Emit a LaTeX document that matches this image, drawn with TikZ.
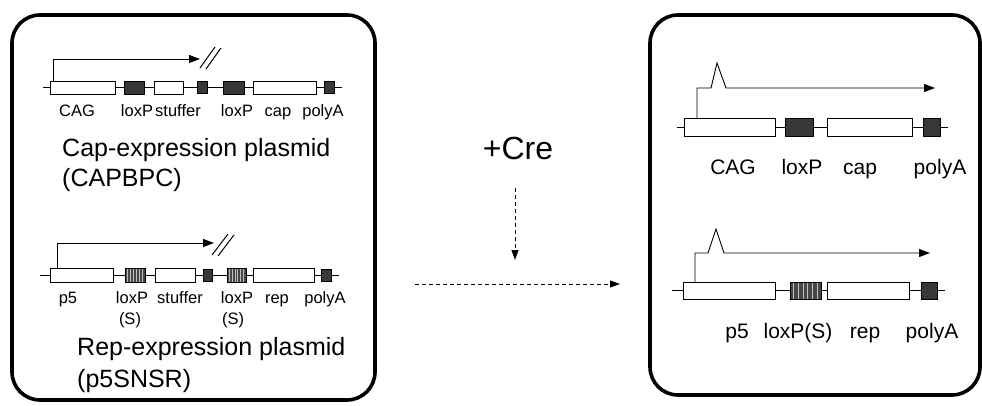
\documentclass[tikz,border=0pt]{standalone}
\usepackage{fontspec}
\setmainfont{Liberation Sans}
\usetikzlibrary{arrows.meta,calc}
\begin{document}
\begin{tikzpicture}[x=1pt,y=-1pt,
  panel/.style={draw, line width=3.6pt, rounded corners=28pt},
  bb/.style={draw, line width=0.8pt},
  obox/.style={draw, fill=white, line width=0.8pt, inner sep=0pt, outer sep=0pt},
  dbox/.style={draw, fill=black!78, line width=0.8pt, inner sep=0pt, outer sep=0pt},
  sbox/.style={draw, fill=black!72, line width=0.8pt, inner sep=0pt, outer sep=0pt,
    path picture={\foreach \i in {0.12,0.27,0.42,0.57,0.72,0.87}{
      \draw[black!25, line width=0.8pt]
        ($(path picture bounding box.south west)!\i!(path picture bounding box.south east)$) --
        ($(path picture bounding box.north west)!\i!(path picture bounding box.north east)$);}}},
  prom/.style={line width=0.9pt, -{Triangle[length=11pt,width=8pt]}},
  slash/.style={line width=1pt},
  labL/.style={anchor=base, inner sep=0pt, font=\fontsize{16.5}{16.5}\selectfont},
  labR/.style={anchor=base, inner sep=0pt, font=\fontsize{21}{21}\selectfont},
  ttl/.style={anchor=base west, inner sep=0pt, font=\fontsize{25}{25}\selectfont},
  dsh/.style={line width=0.9pt, dash pattern=on 4pt off 3pt, -{Triangle[length=10pt,width=7pt]}}
]
\useasboundingbox (0,0) rectangle (982,406);
% panels
\draw[panel] (12,15) rectangle (375,400);
\draw[panel] (650,15) rectangle (980,395);

% ---------- left top: Cap-expression plasmid ----------
\coordinate (b1s) at (43,87.5);
\coordinate (b1e) at (342,87.5);
\draw[bb] (b1s) -- (b1e);
\node[obox, minimum width=65pt, minimum height=13pt] (cag1) at (82.5,87.5) {};
\node[dbox, minimum width=20pt, minimum height=13pt] (lox1a) at (134,87.5) {};
\node[obox, minimum width=29pt, minimum height=13pt] (stf1) at (168.5,87.5) {};
\node[dbox, minimum width=10pt, minimum height=12pt] (pa1a) at (202,87.5) {};
\node[dbox, minimum width=21pt, minimum height=13pt] (lox1b) at (233.5,87.5) {};
\node[obox, minimum width=63pt, minimum height=13pt] (cap1) at (284.5,87.5) {};
\node[dbox, minimum width=10pt, minimum height=12pt] (pa1b) at (329,87.5) {};
\coordinate (a1s) at (53,81);
\coordinate (a1e) at (200,59);
\draw[prom] (a1s) |- (a1e);
\coordinate (s1a) at (200,68); \coordinate (s1b) at (215,47);
\coordinate (s1c) at (206,69); \coordinate (s1d) at (221,48);
\draw[slash] (s1a) -- (s1b);
\draw[slash] (s1c) -- (s1d);
\node[labL] (l1a) at (77,117) {CAG};
\node[labL] (l1b) at (137,117) {loxP};
\node[labL] (l1c) at (178,117) {stuffer};
\node[labL] (l1d) at (237,117) {loxP};
\node[labL] (l1e) at (278,117) {cap};
\node[labL] (l1f) at (323,117) {polyA};
\node[ttl] (t1a) at (62,157) {Cap-expression plasmid};
\node[ttl] (t1b) at (62,187) {(CAPBPC)};

% ---------- left bottom: Rep-expression plasmid ----------
\coordinate (b2s) at (40,275);
\coordinate (b2e) at (339,275);
\draw[bb] (b2s) -- (b2e);
\node[obox, minimum width=63pt, minimum height=14pt] (p5a) at (81.5,275) {};
\node[sbox, minimum width=20pt, minimum height=14pt] (lox2a) at (135,275) {};
\node[obox, minimum width=40pt, minimum height=14pt] (stf2) at (175,275) {};
\node[dbox, minimum width=9pt, minimum height=12pt] (pa2a) at (207.5,275) {};
\node[sbox, minimum width=19pt, minimum height=14pt] (lox2b) at (236.5,275) {};
\node[obox, minimum width=61pt, minimum height=14pt] (rep2) at (283.5,275) {};
\node[dbox, minimum width=10pt, minimum height=12pt] (pa2b) at (326,275) {};
\coordinate (a2s) at (57,268);
\coordinate (a2e) at (214,243);
\draw[prom] (a2s) |- (a2e);
\coordinate (s2a) at (212,255); \coordinate (s2b) at (228,234);
\coordinate (s2c) at (218,256); \coordinate (s2d) at (234,235);
\draw[slash] (s2a) -- (s2b);
\draw[slash] (s2c) -- (s2d);
\node[labL] (l2a) at (68,303) {p5};
\node[labL] (l2b) at (132,303) {loxP};
\node[labL] (l2c) at (180,303) {stuffer};
\node[labL] (l2d) at (237,303) {loxP};
\node[labL] (l2e) at (277,303) {rep};
\node[labL] (l2f) at (325,303) {polyA};
\node[labL] (l2g) at (130,324) {(S)};
\node[labL] (l2h) at (233,324) {(S)};
\node[ttl] (t2a) at (77,355) {Rep-expression plasmid};
\node[ttl] (t2b) at (77,387) {(p5SNSR)};

% ---------- middle ----------
\node[anchor=base, inner sep=0pt, font=\fontsize{32}{32}\selectfont] (cre) at (518,160) {+Cre};
\coordinate (v1) at (515,188);
\coordinate (v2) at (515,260);
\draw[dsh] (v1) -- (v2);
\coordinate (h1) at (415,284);
\coordinate (h2) at (620,284);
\draw[dsh] (h1) -- (h2);

% ---------- right top ----------
\coordinate (b3s) at (677,127.5);
\coordinate (b3e) at (948,127.5);
\draw[bb] (b3s) -- (b3e);
\node[obox, minimum width=91pt, minimum height=18pt] (cag3) at (729.5,127.5) {};
\node[dbox, minimum width=28pt, minimum height=18pt] (lox3) at (799,127.5) {};
\node[obox, minimum width=85pt, minimum height=18pt] (cap3) at (869.5,127.5) {};
\node[dbox, minimum width=17pt, minimum height=18pt] (pa3) at (931.5,127.5) {};
\coordinate (a3s) at (697,118.5);
\coordinate (a3e) at (935,88);
\draw[prom] (a3s) -- (697,88) -- (711,88) -- (717,63) -- (726,88) -- (a3e);
\node[labR] (l3a) at (733,175) {CAG};
\node[labR] (l3b) at (802,175) {loxP};
\node[labR] (l3c) at (860,175) {cap};
\node[labR] (l3d) at (940,175) {polyA};

% ---------- right bottom ----------
\coordinate (b4s) at (672,290.5);
\coordinate (b4e) at (945,290.5);
\draw[bb] (b4s) -- (b4e);
\node[obox, minimum width=92pt, minimum height=17pt] (p54) at (729,290.5) {};
\node[sbox, minimum width=31pt, minimum height=17pt] (lox4) at (805.5,290.5) {};
\node[obox, minimum width=82pt, minimum height=17pt] (rep4) at (868,290.5) {};
\node[dbox, minimum width=16pt, minimum height=17pt] (pa4) at (929,290.5) {};
\coordinate (a4s) at (695,282);
\coordinate (a4e) at (930,253);
\draw[prom] (a4s) -- (695,253) -- (708,253) -- (716,229) -- (724,253) -- (a4e);
\node[labR] (l4a) at (737,338) {p5};
\node[labR] (l4b) at (798,338) {loxP(S)};
\node[labR] (l4c) at (865,338) {rep};
\node[labR] (l4d) at (932,338) {polyA};
\end{tikzpicture}
\end{document}
